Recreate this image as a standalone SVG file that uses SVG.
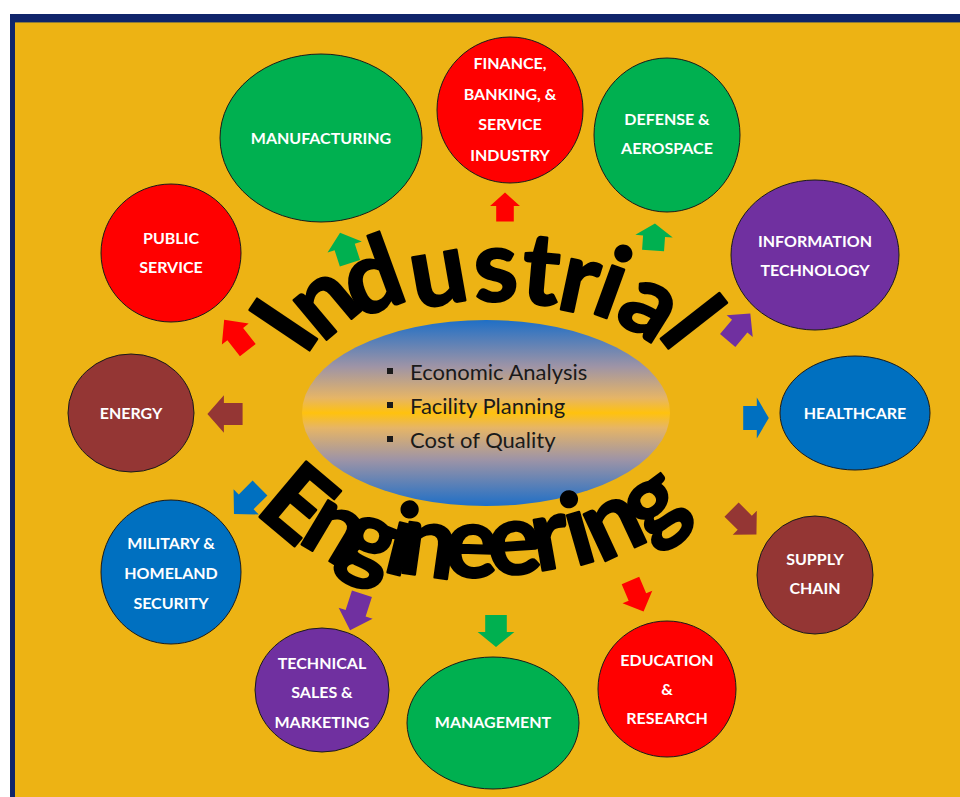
<svg xmlns="http://www.w3.org/2000/svg" width="960" height="797" viewBox="0 0 960 797">
<defs>
<style>
.nt{font-family:Lato,"Liberation Sans",sans-serif;font-weight:bold;font-size:16px;fill:#ffffff;text-anchor:middle}
.nd{stroke:#1a1a1a;stroke-width:1}
.big{font-family:Lato,"Liberation Sans",sans-serif;font-weight:bold;font-size:100px;fill:#000000;stroke:#000000;stroke-width:2.5;stroke-linejoin:round}
.bt{font-family:Lato,"Noto Sans",sans-serif;font-size:22px;fill:#1a1a1a}
</style>
<linearGradient id="cg" x1="0" y1="0" x2="0" y2="1">
<stop offset="0" stop-color="#1F6FC6"/>
<stop offset="0.25" stop-color="#9E94A6"/>
<stop offset="0.42" stop-color="#E6B566"/>
<stop offset="0.5" stop-color="#FFC20E"/>
<stop offset="0.58" stop-color="#E6B566"/>
<stop offset="0.75" stop-color="#9E94A6"/>
<stop offset="1" stop-color="#1F6FC6"/>
</linearGradient>
<path id="arr" d="M0,-16 L17,-1 L10,-1 L10,16 L-10,16 L-10,-1 L-17,-1 Z"/>
</defs>
<rect x="0" y="0" width="960" height="797" fill="#ffffff"/>
<rect x="10" y="14" width="960" height="800" fill="#10256B"/>
<rect x="15" y="22" width="960" height="800" fill="#EDB314"/>
<line x1="15" y1="22.5" x2="960" y2="22.5" stroke="#8C7A3A" stroke-width="1"/>

<g id="connectors">
<use href="#arr" fill="#00B050" transform="translate(345,248) rotate(-18) scale(1.06,1)"/>
<use href="#arr" fill="#FF0000" transform="translate(505,207) scale(0.88,0.9)"/>
<use href="#arr" fill="#00B050" transform="translate(654,237) rotate(4) scale(1.1,0.85)"/>
<use href="#arr" fill="#FF0000" transform="translate(236,335) rotate(-38) scale(1,1.2)"/>
<use href="#arr" fill="#943634" transform="translate(225,414) rotate(-90) scale(1.1,1.1)"/>
<use href="#arr" fill="#0070C0" transform="translate(247,501) rotate(-135) scale(1.05,1.15)"/>
<use href="#arr" fill="#7030A0" transform="translate(739,327) rotate(40) scale(1,1.1)"/>
<use href="#arr" fill="#0070C0" transform="translate(756,418) rotate(90) scale(1.2,0.8)"/>
<use href="#arr" fill="#943634" transform="translate(744,522) rotate(135) scale(1,1.1)"/>
<use href="#arr" fill="#7030A0" transform="translate(356,612) rotate(198) scale(1.05,1.2)"/>
<use href="#arr" fill="#00B050" transform="translate(496,631) rotate(180) scale(1.08,1)"/>
<use href="#arr" fill="#FF0000" transform="translate(637,596) rotate(157) scale(0.95,1.05)"/>
</g>

<g id="center">
<ellipse cx="486" cy="413" rx="184" ry="93" fill="url(#cg)"/>
<rect x="387" y="368" width="6" height="6" fill="#1a1a1a"/>
<rect x="387" y="402" width="6" height="6" fill="#1a1a1a"/>
<rect x="387" y="436" width="6" height="6" fill="#1a1a1a"/>
<text class="bt" x="410" y="380">Economic Analysis</text>
<text class="bt" x="410" y="414">Facility Planning</text>
<text class="bt" x="410" y="448">Cost of Quality</text>
</g>

<g id="title">
<text class="big" x="304.9 322.0 356.9 415.7 475.2 519.8 554.9 588.7 612.5 656.9" y="357.0 343.4 318.8 309.0 302.1 302.4 307.9 311.5 318.6 333.7" rotate="-56 -40 -20 -10 -3 5 12 20 32 52">Industrial</text>
<text class="big" x="253.4 296.4 335.1 381.3 396.6 443.8 489.8 536.8 575.0 600.0 649.4" y="511.8 541.2 559.3 570.8 572.0 576.1 575.8 571.4 566.6 563.6 543.5" rotate="40 31 22 14 8 2 -4 -10 -16 -25 -37">Engineering</text>
</g>

<g id="manufacturing">
<ellipse class="nd" cx="321" cy="138" rx="101" ry="84" fill="#00B050"/>
<text class="nt" x="321" y="144">MANUFACTURING</text>
</g>
<g id="finance">
<ellipse class="nd" cx="510" cy="110" rx="73" ry="73" fill="#FF0000"/>
<text class="nt" x="510" y="69">FINANCE,</text>
<text class="nt" x="510" y="100">BANKING, &amp;</text>
<text class="nt" x="510" y="130">SERVICE</text>
<text class="nt" x="510" y="161">INDUSTRY</text>
</g>
<g id="defense">
<ellipse class="nd" cx="667" cy="135" rx="73" ry="77" fill="#00B050"/>
<text class="nt" x="667" y="125">DEFENSE &amp;</text>
<text class="nt" x="667" y="154">AEROSPACE</text>
</g>
<g id="public-service">
<ellipse class="nd" cx="171" cy="253" rx="70" ry="69" fill="#FF0000"/>
<text class="nt" x="171" y="244">PUBLIC</text>
<text class="nt" x="171" y="273">SERVICE</text>
</g>
<g id="information-technology">
<ellipse class="nd" cx="815" cy="255" rx="84" ry="75" fill="#7030A0"/>
<text class="nt" x="815" y="247">INFORMATION</text>
<text class="nt" x="815" y="276">TECHNOLOGY</text>
</g>
<g id="energy">
<ellipse class="nd" cx="131" cy="413" rx="63" ry="59" fill="#943634"/>
<text class="nt" x="131" y="419">ENERGY</text>
</g>
<g id="healthcare">
<ellipse class="nd" cx="855" cy="413" rx="75" ry="57" fill="#0070C0"/>
<text class="nt" x="855" y="419">HEALTHCARE</text>
</g>
<g id="military">
<ellipse class="nd" cx="171" cy="572" rx="70" ry="72" fill="#0070C0"/>
<text class="nt" x="171" y="549">MILITARY &amp;</text>
<text class="nt" x="171" y="579">HOMELAND</text>
<text class="nt" x="171" y="609">SECURITY</text>
</g>
<g id="supply-chain">
<ellipse class="nd" cx="815" cy="575" rx="58" ry="59" fill="#943634"/>
<text class="nt" x="815" y="565">SUPPLY</text>
<text class="nt" x="815" y="594">CHAIN</text>
</g>
<g id="technical-sales">
<ellipse class="nd" cx="322" cy="690" rx="67" ry="62" fill="#7030A0"/>
<text class="nt" x="322" y="669">TECHNICAL</text>
<text class="nt" x="322" y="698">SALES &amp;</text>
<text class="nt" x="322" y="728">MARKETING</text>
</g>
<g id="management">
<ellipse class="nd" cx="493" cy="723" rx="86" ry="66" fill="#00B050"/>
<text class="nt" x="493" y="728">MANAGEMENT</text>
</g>
<g id="education">
<ellipse class="nd" cx="667" cy="689" rx="69" ry="68" fill="#FF0000"/>
<text class="nt" x="667" y="666">EDUCATION</text>
<text class="nt" x="667" y="695">&amp;</text>
<text class="nt" x="667" y="724">RESEARCH</text>
</g>
</svg>
